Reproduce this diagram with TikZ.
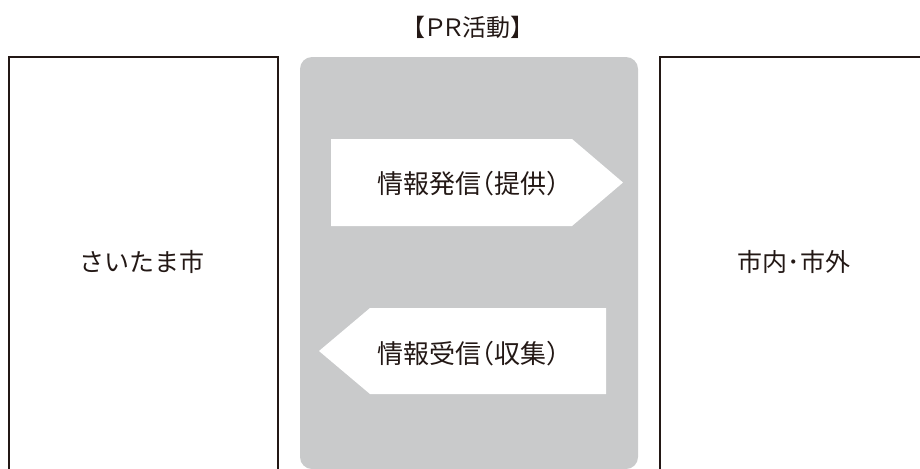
\documentclass[tikz,border=0pt]{standalone}
\usepackage{fontspec}
\setmainfont{Noto Sans CJK JP}
\newfontfamily\haltfont[RawFeature=+halt]{Noto Sans CJK JP}
\newfontfamily\paltfont[RawFeature=+palt]{Noto Sans CJK JP}
\usepackage{xcolor}
\usetikzlibrary{positioning}
\definecolor{inkblack}{HTML}{231815}
\definecolor{prgray}{HTML}{C9CACB}
\tikzset{
	sidebox/.style={rectangle, draw=inkblack, line width=1pt, inner sep=0pt},
	prbox/.style={rectangle, fill=prgray, rounded corners=6pt, inner sep=0pt},
	flowfill/.style={fill=white},
	labeltext/.style={text=inkblack, inner sep=0pt, font=\fontsize{12.5}{15}\selectfont},
	flowtext/.style={text=inkblack, inner sep=0pt, font=\haltfont\fontsize{13}{15}\selectfont},
	titletext/.style={text=inkblack, inner sep=0pt, font=\paltfont\fontsize{12}{14}\selectfont}
}

\begin{document}
\begin{tikzpicture}[x=0.5pt, y=-0.5pt]
		\clip (0,0) rectangle (920,468);
		\useasboundingbox (0,0) rectangle (920,468);
		
		\node[sidebox, minimum width=134.5pt, minimum height=212pt] at (143.5,269) (city) {};
		\node[sidebox, minimum width=140pt, minimum height=212pt] at (800,269) (outer) {};
		\node[prbox, minimum width=169pt, minimum height=206pt] at (469,263) (pr) {};
		\node[titletext] at (468,27) (prt) {【ＰＲ活動】};
		\node[labeltext] at (142,262) (cityt) {さいたま市};
		\node[labeltext] at (794,262) (outert) {市内･市外};
		
		% arrows
		\fill[flowfill] (331,139) -- (572,139) -- (623,182.5) -- (572,226) -- (331,226) -- cycle;
		\fill[flowfill] (606,308) -- (370,308) -- (319,351) -- (370,394) -- (606,394) -- cycle;
		\node[flowtext] at (468,184) (sendt) {情報発信（提供）};
		\node[flowtext] at (468,354) (recvt) {情報受信（収集）};
	\end{tikzpicture}
\end{document}
